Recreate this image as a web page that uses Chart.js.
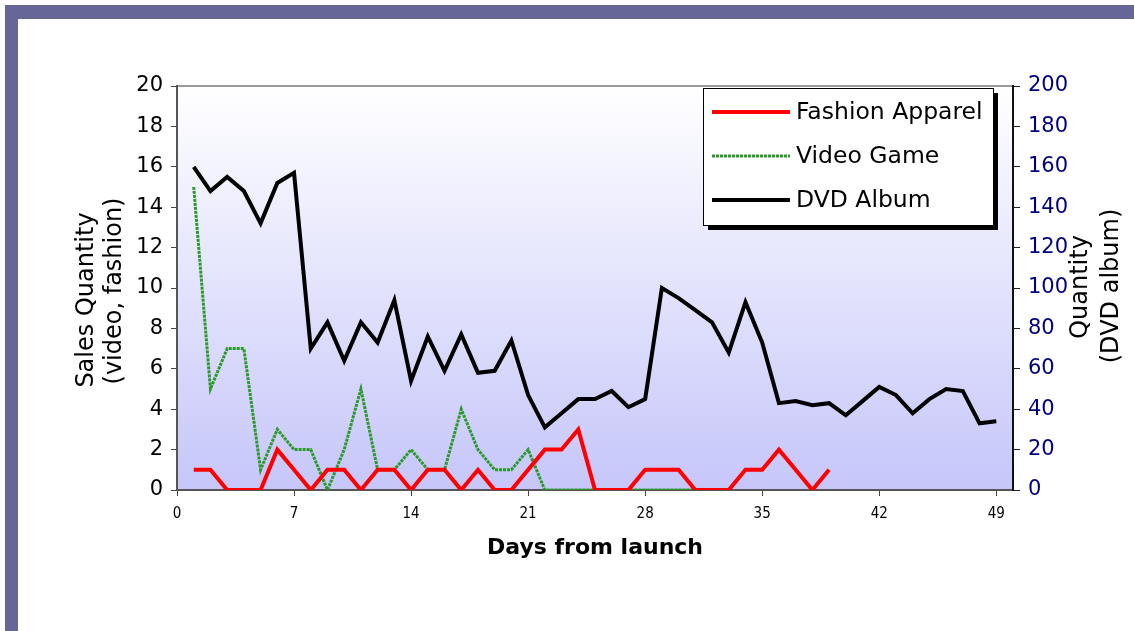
<!DOCTYPE html>
<html>
<head>
<meta charset="utf-8">
<script src="https://cdn.jsdelivr.net/npm/chart.js@4"></script>
<style>
  html, body { margin: 0; padding: 0; background: #fff; }
  #wrap { position: relative; width: 1134px; height: 631px; overflow: hidden; }
  .barTop { position: absolute; left: 5px; top: 5px; width: 1129px; height: 14px; background: #666699; }
  .barLeft { position: absolute; left: 5px; top: 5px; width: 13px; height: 626px; background: #666699; }
  canvas { position: absolute; left: 0; top: 0; }
</style>
</head>
<body>
<div id="wrap">
  <div class="barTop"></div>
  <div class="barLeft"></div>
  <canvas id="grafico" width="1134" height="631"></canvas>
</div>
<script>
// datos (dia 1 en adelante)
const dvdAlbum = [160, 148, 155, 148, 132, 152, 157, 70, 83, 64, 83, 73, 94, 54, 76, 59, 77, 58, 59, 74,
                  47, 31, 38, 45, 45, 49, 41, 45, 100, 95, 89, 83, 68, 93, 73, 43, 44, 42, 43, 37,
                  44, 51, 47, 38, 45, 50, 49, 33, 34];
const fashionApparel = [1, 1, 0, 0, 0, 2, 1, 0, 1, 1, 0, 1, 1, 0, 1, 1, 0, 1, 0, 0,
                        1, 2, 2, 3, 0, 0, 0, 1, 1, 1, 0, 0, 0, 1, 1, 2, 1, 0, 1];
const videoGame = [15, 5, 7, 7, 1, 3, 2, 2, 0, 2, 5, 1, 1, 2, 1, 1, 4, 2, 1, 1,
                   2, 0, 0, 0, 0, 0, 0, 0, 0, 0, 0, 0, 0];
const xTicks = [0, 7, 14, 21, 28, 35, 42, 49];
const seriesNames = ['Fashion Apparel', 'Video Game', 'DVD Album'];

const toPoints = arr => arr.map((v, i) => ({ x: i + 1, y: v }));
const FONT = "'DejaVu Sans', Verdana, sans-serif";

// fondo degradado del area del grafico
const fondoPlugin = {
    id: 'fondo',
    beforeDraw(chart) {
        const { ctx, chartArea: a } = chart;
        const g = ctx.createLinearGradient(0, a.top, 0, a.bottom);
        g.addColorStop(0, '#ffffff');
        g.addColorStop(1, '#c6c6fa');
        ctx.save();
        ctx.fillStyle = g;
        ctx.fillRect(a.left, a.top, a.right - a.left, a.bottom - a.top);
        ctx.strokeStyle = '#9a9a9a';
        ctx.lineWidth = 2;
        ctx.beginPath();
        ctx.moveTo(a.left, a.top);
        ctx.lineTo(a.right, a.top);
        ctx.stroke();
        ctx.restore();
    }
};

// titulos de ejes y leyenda dibujados a mano
const textosPlugin = {
    id: 'textos',
    afterDraw(chart) {
        const { ctx, chartArea: a } = chart;
        ctx.save();
        ctx.fillStyle = '#000';
        ctx.textAlign = 'center';
        ctx.textBaseline = 'middle';

        const vertical = (txt, x, y) => {
            ctx.save();
            ctx.translate(x, y);
            ctx.rotate(-Math.PI / 2);
            ctx.fillText(txt, 0, 0);
            ctx.restore();
        };

        // eje izquierdo
        ctx.font = '24px ' + FONT;
        vertical('Sales Quantity', 87, 300);
        vertical('(video, fashion)', 115, 291);

        // eje derecho
        vertical('Quantity', 1081, 287);
        vertical('(DVD album)', 1112, 286);

        // eje x
        ctx.font = 'bold 22px ' + FONT;
        ctx.fillText('Days from launch', (a.left + a.right) / 2, 548);

        // leyenda
        const lx = 703, ly = 88, lw = 290, lh = 137;
        ctx.fillStyle = '#000';
        ctx.fillRect(lx + 5, ly + 5, lw, lh);
        ctx.fillStyle = '#fff';
        ctx.fillRect(lx, ly, lw, lh);
        ctx.strokeStyle = '#000';
        ctx.lineWidth = 1;
        ctx.strokeRect(lx + 0.5, ly + 0.5, lw, lh);

        ctx.textAlign = 'left';
        ctx.font = '23.5px ' + FONT;
        chart.data.datasets.forEach((ds, i) => {
            const y = 112 + i * 44;
            ctx.save();
            ctx.strokeStyle = ds.borderColor;
            ctx.lineWidth = ds.borderWidth;
            ctx.setLineDash(ds.borderDash || []);
            ctx.beginPath();
            ctx.moveTo(712, y);
            ctx.lineTo(790, y);
            ctx.stroke();
            ctx.restore();
            ctx.fillStyle = '#000';
            ctx.fillText(ds.label, 796, y + 1);
        });
        ctx.restore();
    }
};

const ctx = document.getElementById('grafico').getContext('2d');
new Chart(ctx, {
    type: 'line',
    data: {
        datasets: [
            {
                label: seriesNames[0],
                data: toPoints(fashionApparel),
                yAxisID: 'y',
                borderColor: '#ff0000',
                borderWidth: 4,
                pointRadius: 0,
                tension: 0
            },
            {
                label: seriesNames[1],
                data: toPoints(videoGame),
                yAxisID: 'y',
                borderColor: '#2b9a2b',
                borderWidth: 3,
                borderDash: [3, 1],
                pointRadius: 0,
                tension: 0
            },
            {
                label: seriesNames[2],
                data: toPoints(dvdAlbum),
                yAxisID: 'y2',
                borderColor: '#000000',
                borderWidth: 4,
                pointRadius: 0,
                tension: 0
            }
        ]
    },
    options: {
        responsive: false,
        animation: false,
        layout: { padding: { left: 0, right: 0, top: 86, bottom: 0 } },
        plugins: { legend: { display: false }, tooltip: { enabled: false } },
        scales: {
            x: {
                type: 'linear',
                min: 0,
                max: 50,
                afterBuildTicks: axis => { axis.ticks = xTicks.map(v => ({ value: v })); },
                afterFit: axis => { axis.height = 631 - 490; },
                grid: { drawOnChartArea: false, tickLength: 6, color: '#444' },
                border: { color: '#555', width: 2 },
                ticks: { color: '#000', font: { family: "'Liberation Sans Narrow', 'DejaVu Sans Condensed', sans-serif", size: 15 }, padding: 9, maxRotation: 0 }
            },
            y: {
                position: 'left',
                min: 0,
                max: 20,
                afterFit: axis => { axis.width = 177; },
                grid: { drawOnChartArea: false, tickLength: 6, color: '#444' },
                border: { color: '#555', width: 2 },
                ticks: { stepSize: 2, color: '#000', font: { family: FONT, size: 21 }, padding: 8 }
            },
            y2: {
                position: 'right',
                min: 0,
                max: 200,
                afterFit: axis => { axis.width = 1134 - 1013; },
                grid: { drawOnChartArea: false, tickLength: 7, color: '#222' },
                border: { color: '#111', width: 2 },
                ticks: { stepSize: 20, color: '#000080', font: { family: FONT, size: 21 }, padding: 8 }
            }
        }
    },
    plugins: [fondoPlugin, textosPlugin]
});
</script>
</body>
</html>
